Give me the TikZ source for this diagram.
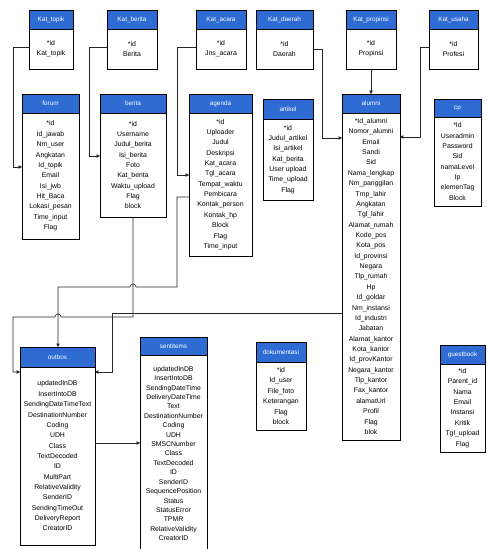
\documentclass[tikz,border=0pt]{standalone}
\usepackage{fontspec}
\setmainfont{Liberation Sans}
\usetikzlibrary{arrows.meta}
\definecolor{hdrblue}{RGB}{46,108,212}
\tikzset{
  hdr/.style={draw=black, line width=0.6pt, fill=hdrblue, text=white, inner sep=0pt, outer sep=0pt, font=\fontsize{6.4}{7}\selectfont},
  bdy/.style={draw=black, line width=0.6pt, fill=white, inner sep=0pt, outer sep=0pt, align=center, font=\fontsize{6.9}{10.4}\selectfont},
  conn/.style={draw=black!85, line width=0.6pt},
  arr/.style={conn, -{Triangle[length=3.5pt,width=3.5pt]}},
}
% #1 name, #2 x1, #3 x2, #4 ytop, #5 yhead, #6 ybot, #7 title, #8 items
\newcommand\tbl[8]{%
  \node[hdr, minimum width={(#3-#2)*1bp}, minimum height={(#5-#4)*1bp}, anchor=north west] (#1-h) at (#2,#4) {#7};
  \node[bdy, minimum width={(#3-#2)*1bp}, minimum height={(#6-#5)*1bp}, anchor=north west] (#1) at (#2,#5) {#8};
}
\begin{document}
\begin{tikzpicture}[x=1bp,y=-1bp]
\useasboundingbox (0,0) rectangle (487,549);
\clip (0,0) rectangle (487,549);
\fill[white] (0,0) rectangle (487,549);

% top row
\tbl{kattopik}{29}{73}{10}{29}{69}{Kat\_topik}{*id\\Kat\_topik}
\tbl{katberita}{107}{157}{10}{29}{69}{Kat\_berita}{*id\\Berita}
\tbl{katacara}{196}{246}{10}{29}{69}{Kat\_acara}{*id\\Jns\_acara}
\tbl{katdaerah}{256}{313}{10}{29}{69}{Kat\_daerah}{*id\\Daerah}
\tbl{katpropinsi}{346}{396}{10}{29}{69}{Kat\_propinsi}{*id\\Propinsi}
\tbl{katusaha}{429}{478}{10}{29}{69}{Kat\_usaha}{*id\\Profesi}

% second row
\tbl{forum}{22}{79}{94}{113}{239}{forum}{*id\\Id\_jawab\\Nm\_user\\Angkatan\\Id\_topik\\Email\\Isi\_jwb\\Hit\_Baca\\Lokasi\_pesan\\Time\_input\\Flag}
\tbl{berita}{100}{166}{94}{113}{217}{berita}{*id\\Username\\Judul\_berita\\Isi\_berita\\Foto\\Kat\_berita\\Waktu\_upload\\Flag\\block}
\tbl{agenda}{189}{252}{94}{113}{256}{agenda}{*id\\Uploader\\Judul\\Deskripsi\\Kat\_acara\\Tgl\_acara\\Tempat\_waktu\\Pembicara\\Kontak\_person\\Kontak\_hp\\Block\\Flag\\Time\_input}
\tbl{artikel}{263}{313}{99}{119}{200}{artikel}{*id\\Judul\_artikel\\Isi\_artikel\\Kat\_berita\\User upload\\Time\_upload\\Flag}
\tbl{alumni}{342}{400}{94}{113}{440}{alumni}{*Id\_alumni\\Nomor\_alumni\\Email\\Sandi\\Sid\\Nama\_lengkap\\Nm\_panggilan\\Tmp\_lahir\\Angkatan\\Tgl\_lahir\\Alamat\_rumah\\Kode\_pos\\Kota\_pos\\Id\_provinsi\\Negara\\Tlp\_rumah\\Hp\\Id\_goldar\\Nm\_instansi\\Id\_industri\\Jabatan\\Alamat\_kantor\\Kota\_kantor\\Id\_provKantor\\Negara\_kantor\\Tlp\_kantor\\Fax\_kantor\\alamatUrl\\Profil\\Flag\\blok}
\tbl{cp}{434}{481}{99}{117}{206}{cp}{*Id\\Useradmin\\Password\\Sid\\namaLevel\\Ip\\elemenTag\\Block}

% bottom row
\tbl{outbox}{20}{95}{347}{367}{545}{outbox}{updatedInDB\\InsertIntoDB\\SendingDateTimeText\\DestinationNumber\\Coding\\UDH\\Class\\TextDecoded\\ID\\MultiPart\\RelativeValidity\\SenderID\\SendingTimeOut\\DeliveryReport\\CreatorID}
\node[hdr, minimum width=67bp, minimum height=18bp, anchor=north west] (sentitems-h) at (140,337) {sentitems};
\node[bdy, font=\fontsize{6.9}{9.45}\selectfont, minimum width=67bp, minimum height=197bp, anchor=north west] (sentitems) at (140,355) {updatedInDB\\InsertIntoDB\\SendingDateTime\\DeliveryDateTime\\Text\\DestinationNumber\\Coding\\UDH\\SMSCNumber\\Class\\TextDecoded\\ID\\SenderID\\SequencePosition\\Status\\StatusError\\TPMR\\RelativeValidity\\CreatorID};
\tbl{dokumentasi}{256}{306}{342}{362}{430}{dokumentasi}{*id\\Id\_user\\File\_foto\\Keterangan\\Flag\\block}
\tbl{guestbook}{440}{485}{345}{364}{452}{guestbook}{*id\\Parent\_id\\Nama\\Email\\Instansi\\Kritik\\Tgl\_upload\\Flag}

% connectors
\draw[arr] (kattopik.west|-0,47) -| (13,167) -- (forum.west|-0,167);
\draw[arr] (katberita.west|-0,47) -| (89,156) -- (berita.west|-0,156);
\draw[arr] (katacara.west|-0,47) -| (177,175) -- (agenda.west|-0,175);
\draw[arr] (katdaerah.east|-0,49) -| (322,138) -- (alumni.west|-0,138);
\draw[arr] (katpropinsi.south) -- (alumni-h.north);
\draw[arr] (katusaha.west|-0,47) -| (420,137) -- (alumni.east|-0,137);
\draw[arr] (agenda.west|-0,197) -| (177,287) -- (136,287) arc(0:-180:3) -- (58,287) -- (outbox-h.north-|58,0);
\draw[arr] (berita.south) -- (berita.south|-0,317) -- (61,317) arc(0:-180:3) -- (13,317) -- (13,372) -- (outbox.west|-0,372);
\draw[arr] (alumni.west|-0,313) -- (112,313) -- (112,372) -- (outbox.east|-0,372);
\draw[arr] (outbox.east|-0,443) -- (sentitems.west|-0,443);
\end{tikzpicture}
\end{document}
